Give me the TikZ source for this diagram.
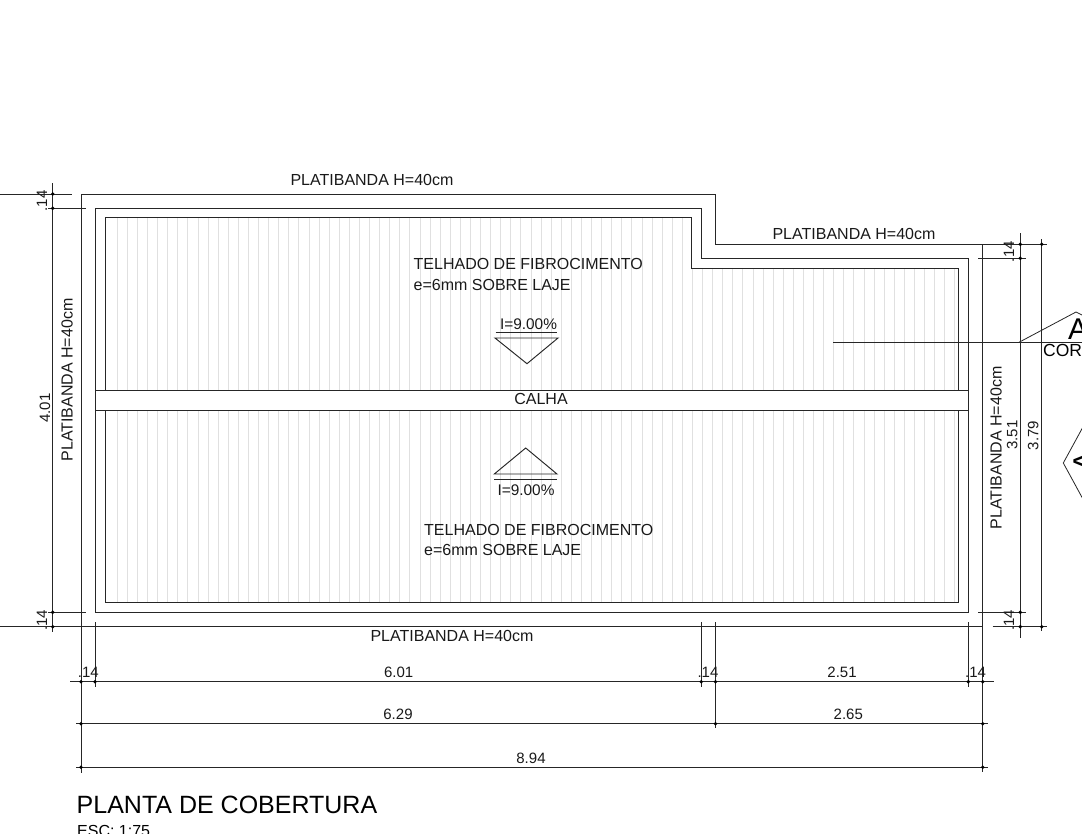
\documentclass[tikz,border=0pt]{standalone}
\usepackage{fontspec}
\setmainfont{Liberation Sans}
\tikzset{
  plan/.style={line width=0.95pt,black!85},
  hatch/.style={line width=0.9pt,black!12},
  dim/.style={line width=0.8pt,black!85},
  lab/.style={inner sep=0pt,anchor=base,font=\fontsize{16}{17}\selectfont,text=black!90},
  labw/.style={lab,anchor=base west},
  dimlab/.style={inner sep=0pt,anchor=base,font=\fontsize{15}{16}\selectfont,text=black!90},
  dimw/.style={dimlab,anchor=base west}
}
\newcommand{\pdot}[2]{\fill (#1,#2) circle (1.9);}
\begin{document}
\begin{tikzpicture}[x=1pt,y=-1pt]
\useasboundingbox (0,0) rectangle (1082,833);
\clip (0,0) rectangle (1082,833);
% hatch
\begin{scope}
\clip (105.7,217.7) -- (691.3,217.7) -- (691.3,268.7) -- (958.7,268.7) -- (958.7,602.3) -- (105.7,602.3) -- cycle;
\foreach \i in {0,...,83}{
  \draw[hatch] ({117.3+\i*10.09},210) -- ({117.3+\i*10.09},610);
}
\end{scope}
% calha
\fill[white] (95,390) rectangle (968.7,410.3);
\draw[plan] (95,390) -- (968.7,390);
\draw[plan] (95,410.3) -- (968.7,410.3);
% outlines
\draw[plan] (81,194) -- (715.5,194) -- (715.5,244.3) -- (982.7,244.3);
\draw[plan] (95,612.3) -- (95,208.3) -- (701.3,208.3) -- (701.3,258.3) -- (968.7,258.3) -- (968.7,612.3) -- cycle;
\draw[plan] (105.7,390) -- (105.7,217.7) -- (691.3,217.7) -- (691.3,268.7) -- (958.7,268.7) -- (958.7,390);
\draw[plan] (105.7,410.3) -- (105.7,602.3) -- (958.7,602.3) -- (958.7,410.3);
\draw[plan] (0,626.7) -- (982.7,626.7);
% long verticals
\draw[plan] (81,194) -- (81,772.5);
\draw[plan] (982.7,244.3) -- (982.7,772);
% left dimension
\draw[dim] (0,194) -- (72,194);
\draw[dim] (48,208.3) -- (86,208.3);
\draw[dim] (48,612.3) -- (86,612.3);
\draw[dim] (52.7,183) -- (52.7,631.7);
\foreach \y in {194,208.3,612.3,626.7}{\pdot{52.7}{\y}}
% right dimensions
\draw[dim] (1020.3,233) -- (1020.3,637.7);
\draw[dim] (1041.7,239) -- (1041.7,631);
\draw[dim] (982.7,244.3) -- (1047,244.3);
\draw[dim] (978,258.3) -- (1025.7,258.3);
\draw[dim] (978,612.3) -- (1025.7,612.3);
\draw[dim] (992.7,626.7) -- (1047,626.7);
\foreach \y in {244.3,258.3,612.3,626.7}{\pdot{1020.3}{\y}}
\pdot{1041.7}{244.3}\pdot{1041.7}{626.7}
% bottom extension lines
\foreach \x in {95,701.3,968.3}{\draw[dim] (\x,622) -- (\x,687);}
\draw[dim] (715.5,622) -- (715.5,728);
% bottom dimensions
\draw[dim] (70,681.7) -- (993.7,681.7);
\draw[dim] (76,723.7) -- (987.7,723.7);
\draw[dim] (76,767.3) -- (987.7,767.3);
\foreach \x in {81,95,701.3,715.5,968.3,982.7}{\pdot{\x}{681.7}}
\foreach \x in {81,715.5,982.7}{\pdot{\x}{723.7}}
\foreach \x in {81,982.7}{\pdot{\x}{767.3}}
% section markers
\draw[dim] (833.3,342.3) -- (1082,342.3);
\draw[dim] (1019,342.3) -- (1076,312) -- (1090,319);
\draw[dim] (1090,414) -- (1063.3,463) -- (1090,512);
% slope symbols
\draw[plan] (495.7,332.3) -- (557,332.3);
\draw[plan] (495,338) -- (558,338) -- (527,363.7) -- cycle;
\draw[plan] (494.3,474) -- (557,474) -- (525.7,448) -- cycle;
\draw[plan] (494.3,479.3) -- (557,479.3);
% labels
\node[lab] (p1) at (372,185.2) {PLATIBANDA H=40cm};
\node[lab] (p2) at (854,239) {PLATIBANDA H=40cm};
\node[lab] (p3) at (452,641.7) {PLATIBANDA H=40cm};
\node[lab,rotate=90] (p4) at (72.5,380) {PLATIBANDA H=40cm};
\node[lab,rotate=90] (p5) at (1001.5,448) {PLATIBANDA H=40cm};
\node[labw] (t1) at (413.5,269.7) {TELHADO DE FIBROCIMENTO};
\node[labw] (t2) at (413.5,290) {e=6mm SOBRE LAJE};
\node[labw] (t3) at (424,535) {TELHADO DE FIBROCIMENTO};
\node[labw] (t4) at (424,555) {e=6mm SOBRE LAJE};
\node[dimlab,font=\fontsize{15.4}{16}\selectfont] (i1) at (528.5,329.5) {I=9.00\%};
\node[dimlab,font=\fontsize{15.4}{16}\selectfont] (i2) at (526,495) {I=9.00\%};
\node[lab] (c) at (541,404) {CALHA};
\node[dimlab,rotate=90] (d1) at (50,408) {4.01};
\node[dimw,rotate=90] (d1a) at (47,211.5) {.14};
\node[dimw,rotate=90] (d1b) at (47,631) {.14};
\node[dimlab,rotate=90] (d2) at (1017.3,435) {3.51};
\node[dimlab,rotate=90] (d3) at (1038.3,435.5) {3.79};
\node[dimw,rotate=90] (d2a) at (1014,262.3) {.14};
\node[dimw,rotate=90] (d2b) at (1014,631) {.14};
\node[dimw] (b1) at (77.7,677.8) {.14};
\node[dimw] (b2) at (697.3,677.8) {.14};
\node[dimw] (b3) at (965,677.8) {.14};
\node[dimlab] (b4) at (398.7,677.8) {6.01};
\node[dimlab] (b5) at (842,677.8) {2.51};
\node[dimlab] (b6) at (398,719.3) {6.29};
\node[dimlab] (b7) at (848.3,719.3) {2.65};
\node[dimlab] (b8) at (531,763) {8.94};
\node[inner sep=0pt,anchor=base west,font=\fontsize{25}{26}\selectfont] (ti) at (76.5,813) {PLANTA DE COBERTURA};
\node[labw,text=black] (es) at (77,836.5) {ESC: 1:75};
\node[inner sep=0pt,anchor=base,font=\fontsize{30}{31}\selectfont] (a1) at (1078,339.5) {A};
\node[inner sep=0pt,anchor=base west,font=\fontsize{17.5}{18}\selectfont] (co) at (1043,356.7) {COR};
\node[inner sep=0pt,anchor=base,rotate=90,font=\fontsize{30}{31}\selectfont] (a2) at (1094,461) {A};
\end{tikzpicture}
\end{document}
